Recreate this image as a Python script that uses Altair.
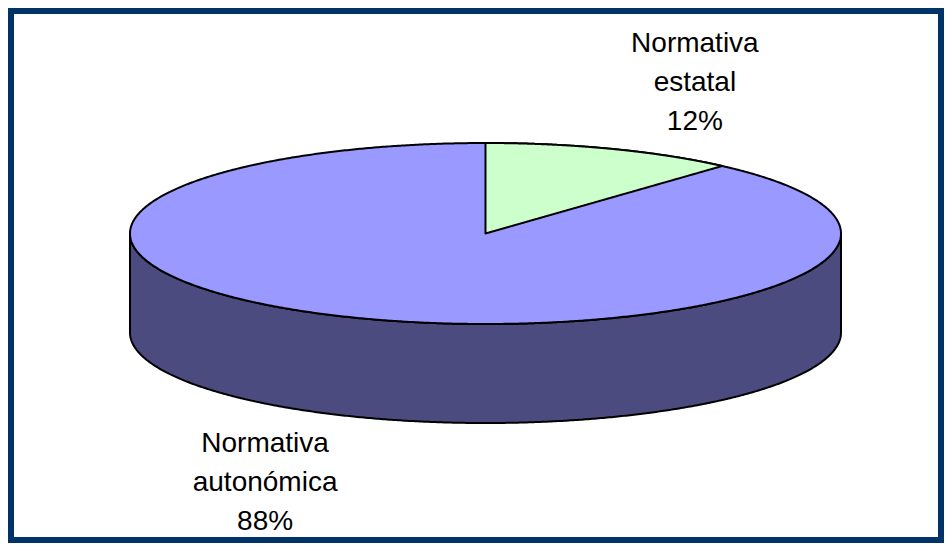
import numpy as np
import pandas as pd
import altair as alt

# ---- data ----
categories = ["Normativa estatal", "Normativa autonómica"]
values = [11.6, 88.4]
label_lines = [["Normativa", "estatal"], ["Normativa", "autonómica"]]
top_colors = ["#CCFFCC", "#9999FF"]
side_color = "#4B4B7F"

# ---- layout (ellipse units: rx = 1, ry = 1) ----
X_DOMAIN = [-1.3347, 1.2813]
Y_DOMAIN = [-3.3867, 2.4586]
DEPTH = 1.094
W, H = 930, 529
label_pos = {"Normativa estatal": (0.589, 2.005), "Normativa autonómica": (-0.620, -2.414)}

N = 500
total = sum(values)
angles = np.cumsum([0] + [v / total * 2 * np.pi for v in values])

# full top ellipse (area between upper and lower half)
t = np.linspace(-np.pi / 2, np.pi / 2, N)
xs = np.sin(t)
half = np.sqrt(np.clip(1 - xs**2, 0, None))
top_df = pd.DataFrame({"x": xs, "y": half, "y2": -half})

# front side (extrusion of the lower half)
side_df = pd.DataFrame({"x": xs, "y": -half, "y2": -half - DEPTH})

# first slice (starts at 12 o'clock, clockwise)
a0, a1 = angles[0], angles[1]
ts = np.linspace(a0, a1, N)
sx = np.sin(ts)
ex, ey = np.sin(a1), np.cos(a1)
slice_df = pd.DataFrame({"x": sx, "y": np.cos(ts), "y2": sx * ey / ex})

xs_scale = alt.Scale(domain=X_DOMAIN, nice=False, zero=False)
ys_scale = alt.Scale(domain=Y_DOMAIN, nice=False, zero=False)


def area_layer(df, color):
    return alt.Chart(df).mark_area(color=color, stroke="black", strokeWidth=2,
                                   strokeJoin="round").encode(
        x=alt.X("x:Q", scale=xs_scale, axis=None),
        y=alt.Y("y:Q", scale=ys_scale, axis=None),
        y2="y2:Q",
    )


side = area_layer(side_df, side_color)
top = area_layer(top_df, top_colors[1])
first_slice = area_layer(slice_df, top_colors[0])

lab_df = pd.DataFrame({
    "cat": categories,
    "x": [label_pos[c][0] for c in categories],
    "y": [label_pos[c][1] for c in categories],
    "txt": [lines + [f"{round(v / total * 100)}%"] for lines, v in zip(label_lines, values)],
})
labels = alt.Chart(lab_df).mark_text(
    font="Liberation Sans", fontSize=28, lineHeight=39, align="center",
    baseline="alphabetic", color="black"
).encode(
    x=alt.X("x:Q", scale=xs_scale, axis=None),
    y=alt.Y("y:Q", scale=ys_scale, axis=None),
    text="txt",
)

chart = alt.layer(side, top, first_slice, labels).properties(
    width=W, height=H, padding=3, autosize=alt.AutoSizeParams(type="none"),
    background="white",
).configure_view(stroke="#003366", strokeWidth=6)

chart.save("out.html", embed_options={"renderer": "svg", "actions": False})
